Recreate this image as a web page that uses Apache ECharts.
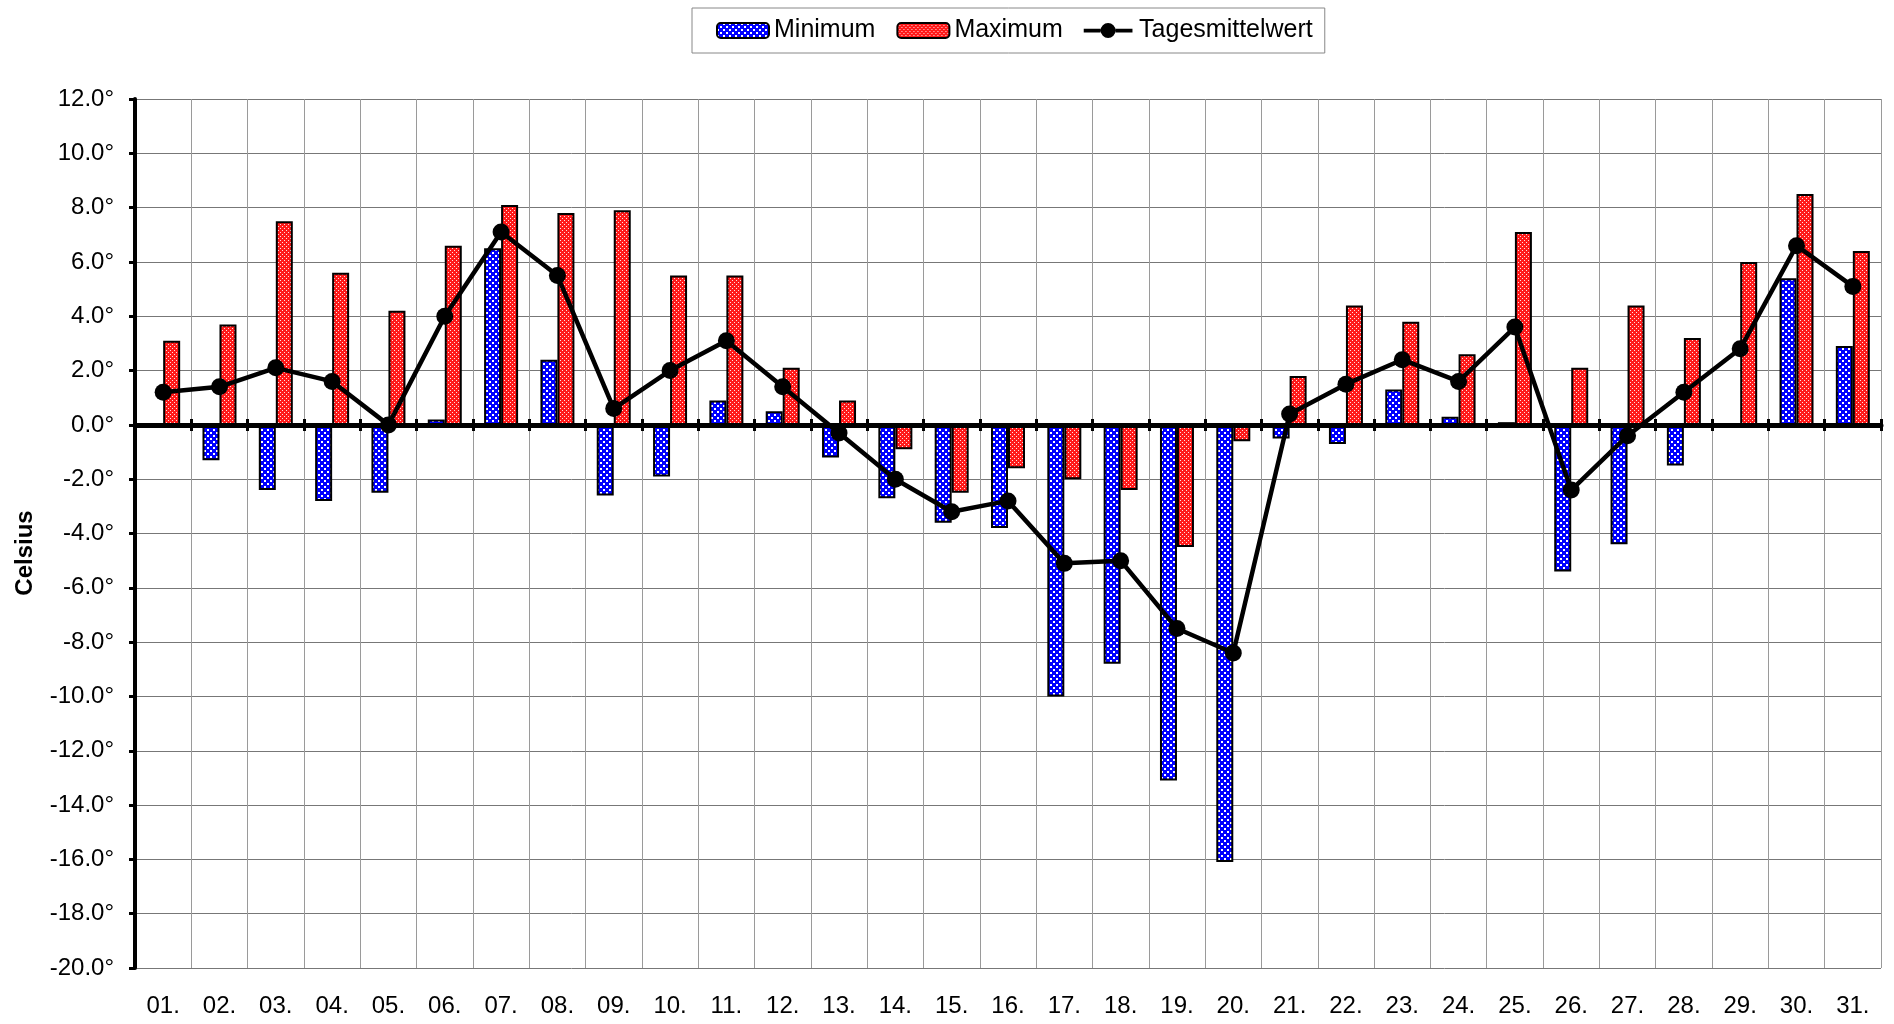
<!DOCTYPE html>
<html>
<head>
<meta charset="utf-8">
<script src="https://cdn.jsdelivr.net/npm/echarts@6/dist/echarts.min.js"></script>
<style>
html,body{margin:0;padding:0;background:#fff;}
#chart{width:1894px;height:1024px;}
</style>
</head>
<body>
<div id="chart"></div>
<script>
var days = ['01.','02.','03.','04.','05.','06.','07.','08.','09.','10.','11.','12.','13.','14.','15.','16.','17.','18.','19.','20.','21.','22.','23.','24.','25.','26.','27.','28.','29.','30.','31.'];
var minimum = [0.0, -1.3, -2.4, -2.8, -2.5, 0.2, 6.5, 2.4, -2.6, -1.9, 0.9, 0.5, -1.2, -2.7, -3.6, -3.8, -10.0, -8.8, -13.1, -16.1, -0.5, -0.7, 1.3, 0.3, 0.1, -5.4, -4.4, -1.5, 0.0, 5.4, 2.9];
var maximum = [3.1, 3.7, 7.5, 5.6, 4.2, 6.6, 8.1, 7.8, 7.9, 5.5, 5.5, 2.1, 0.9, -0.9, -2.5, -1.6, -2.0, -2.4, -4.5, -0.6, 1.8, 4.4, 3.8, 2.6, 7.1, 2.1, 4.4, 3.2, 6.0, 8.5, 6.4];
var mittel = [1.2, 1.4, 2.1, 1.6, 0.0, 4.0, 7.1, 5.5, 0.6, 2.0, 3.1, 1.4, -0.3, -2.0, -3.2, -2.8, -5.1, -5.0, -7.5, -8.4, 0.4, 1.5, 2.4, 1.6, 3.6, -2.4, -0.4, 1.2, 2.8, 6.6, 5.1];
var seriesNames = ['Minimum', 'Maximum', 'Tagesmittelwert'];
var yTitle = 'Celsius';

function makePattern(bg, fg, size, dots) {
  var c = document.createElement('canvas');
  c.width = size; c.height = size;
  var ctx = c.getContext('2d');
  ctx.fillStyle = bg; ctx.fillRect(0, 0, size, size);
  ctx.fillStyle = fg;
  dots.forEach(function (d) { ctx.fillRect(d[0], d[1], d[2], d[3]); });
  return { image: c, repeat: 'repeat' };
}
var bluePat = makePattern('#0000ff', '#ffffff', 6, [[0,0,2,2],[3,3,2,2]]);
var redPat = makePattern('#ff1a1a', '#ffe0e0', 4, [[0,0,1,1],[2,2,1,1]]);

var lineIcon = 'path://M0,6L18,6L18,10L0,10Z M34,6L52,6L52,10L34,10Z M18,8A8,8 0 1,1 34,8A8,8 0 1,1 18,8Z';

var FONT = '"Liberation Sans", Arial, sans-serif';
var chart = echarts.init(document.getElementById('chart'), null, {renderer: 'canvas'});
chart.setOption({
  backgroundColor: '#ffffff',
  animation: false,
  legend: {
    top: 8,
    left: 692,
    data: [
      { name: seriesNames[0] },
      { name: seriesNames[1] },
      { name: seriesNames[2], icon: lineIcon, itemStyle: { color: '#000' } }
    ],
    selectedMode: false,
    backgroundColor: '#ffffff',
    borderColor: '#888888',
    borderWidth: 1,
    padding: [10, 12, 10, 24],
    itemGap: 21,
    itemWidth: 52,
    itemHeight: 15,
    textStyle: { fontFamily: FONT, fontSize: 25, color: '#000' }
  },
  grid: { left: 135, right: 13, top: 99, bottom: 56, containLabel: false },
  xAxis: [
    {
      type: 'category', data: days, position: 'bottom', boundaryGap: true,
      axisLine: { show: false, onZero: false },
      axisTick: { show: false },
      axisLabel: { fontFamily: FONT, fontSize: 24, color: '#000', margin: 26, interval: 0 },
      splitLine: { show: true, interval: 0, lineStyle: { color: '#9a9a9a', width: 1 } }
    },
    {
      type: 'category', data: days, position: 'bottom', boundaryGap: true, z: 3,
      axisLine: { show: true, onZero: true, onZeroAxisIndex: 0, lineStyle: { color: '#000', width: 5 } },
      axisTick: { show: true, interval: 0, length: 6, lineStyle: { color: '#000', width: 3 } },
      axisLabel: { show: false },
      splitLine: { show: false }
    },
    {
      type: 'category', data: days, position: 'bottom', boundaryGap: true, z: 3,
      axisLine: { show: true, onZero: true, onZeroAxisIndex: 1, lineStyle: { color: 'rgba(0,0,0,0)', width: 1 } },
      axisTick: { show: true, inside: true, interval: 0, length: 6, lineStyle: { color: '#000', width: 3 } },
      axisLabel: { show: false },
      splitLine: { show: false }
    }
  ],
  yAxis: [
    {
      type: 'value', min: -20, max: 12, interval: 2, position: 'left',
      axisLine: { show: true, onZero: false, lineStyle: { color: '#000', width: 4 } },
      axisTick: { show: true, length: 6, lineStyle: { color: '#000', width: 3 } },
      axisLabel: { fontFamily: FONT, fontSize: 24, color: '#000', margin: 21,
        formatter: function (v) { return v.toFixed(1) + '°'; } },
      splitLine: { show: true, lineStyle: { color: '#777777', width: 1 } }
    },
    {
      type: 'value', min: -20, max: 12, interval: 2, position: 'right', show: false,
      axisLine: { onZero: false }, splitLine: { show: false }
    }
  ],
  graphic: [{
    type: 'text', x: 25, y: 553, rotation: Math.PI / 2,
    style: { text: yTitle, fontFamily: FONT, fontSize: 24, fontWeight: 'bold', fill: '#000',
      textAlign: 'center', textVerticalAlign: 'middle' }
  }],
  series: [
    {
      name: seriesNames[0], type: 'bar', data: minimum, xAxisIndex: 0, yAxisIndex: 0,
      barWidth: 17, barGap: '0%', z: 2,
      itemStyle: { color: bluePat, borderColor: '#000', borderWidth: 2 }
    },
    {
      name: seriesNames[1], type: 'bar', data: maximum, xAxisIndex: 0, yAxisIndex: 0,
      barWidth: 17, barGap: '0%', z: 2,
      itemStyle: { color: redPat, borderColor: '#000', borderWidth: 2 }
    },
    {
      name: seriesNames[2], type: 'line', data: mittel, xAxisIndex: 0, yAxisIndex: 0, z: 5,
      symbol: 'circle', symbolSize: 17,
      lineStyle: { color: '#000', width: 4.5 },
      itemStyle: { color: '#000', borderWidth: 0 }
    }
  ]
});
</script>
</body>
</html>
